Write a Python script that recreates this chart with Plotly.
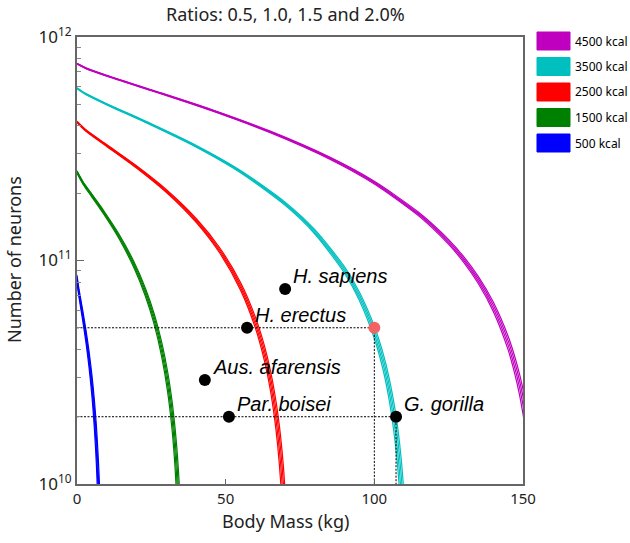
import math
import plotly.graph_objects as go

# ---------------- data ----------------
budgets = ["4500 kcal", "3500 kcal", "2500 kcal", "1500 kcal", "500 kcal"]
colors = ["#bf00bf", "#00bfbf", "#ff0000", "#008000", "#0000ff"]
ratios = ["0.5%", "1.0%", "1.5%", "2.0%"]
UNIT = 1e10  # neuron values below are given in units of 10^10 neurons

# 4500 kcal: body mass (kg) and number of neurons for each ratio
mag_mass = [0, 3, 10, 25, 45, 65, 85, 100, 115, 125, 130, 135, 140, 145, 148, 150, 152]
mag_r05 = [76.3, 72.8, 67.4, 58.1, 47.5, 37.9, 29.0, 22.6, 16.4, 12.4, 10.43, 8.47, 6.52, 4.58, 3.42, 2.66, 1.90]
mag_r10 = [76.1, 72.6, 67.2, 57.9, 47.3, 37.7, 28.8, 22.4, 16.2, 12.2, 10.23, 8.27, 6.32, 4.38, 3.22, 2.46, 1.70]
mag_r15 = [75.9, 72.4, 67.0, 57.7, 47.1, 37.5, 28.6, 22.2, 16.0, 12.0, 10.03, 8.07, 6.12, 4.18, 3.02, 2.26, 1.50]
mag_r20 = [75.7, 72.2, 66.8, 57.5, 46.9, 37.3, 28.4, 22.0, 15.8, 11.8, 9.83, 7.87, 5.92, 3.98, 2.82, 2.06, 1.30]

# 3500 kcal
cya_mass = [0, 3, 10, 25, 40, 55, 70, 80, 90, 95, 100, 103, 105, 107, 108, 109, 110, 111]
cya_r05 = [59.3, 55.8, 50.3, 40.9, 32.8, 25.3, 18.25, 13.74, 9.36, 7.21, 5.08, 3.82, 2.97, 2.14, 1.73, 1.31, 0.89, 0.48]
cya_r10 = [59.1, 55.6, 50.1, 40.7, 32.6, 25.1, 18.05, 13.54, 9.16, 7.01, 4.88, 3.62, 2.77, 1.94, 1.53, 1.11, 0.69, 0.28]
cya_r15 = [58.9, 55.4, 49.9, 40.5, 32.4, 24.9, 17.85, 13.34, 8.96, 6.81, 4.68, 3.42, 2.57, 1.74, 1.33, 0.91, 0.49, 0.08]
cya_r20 = [58.7, 55.2, 49.7, 40.3, 32.2, 24.7, 17.65, 13.14, 8.76, 6.61, 4.48, 3.22, 2.37, 1.54, 1.13, 0.71, 0.29, 0.02]

# 2500 kcal
red_mass = [0, 3, 10, 20, 30, 40, 48, 55, 60, 63, 65, 66.5, 67.5, 68.5, 69.5, 70.5]
red_r05 = [42.0, 38.48, 33.00, 26.54, 20.79, 15.45, 11.40, 7.97, 5.58, 4.17, 3.24, 2.54, 2.08, 1.62, 1.16, 0.70]
red_r10 = [41.8, 38.28, 32.80, 26.34, 20.59, 15.25, 11.20, 7.77, 5.38, 3.97, 3.04, 2.34, 1.88, 1.42, 0.96, 0.50]
red_r15 = [41.6, 38.08, 32.60, 26.14, 20.39, 15.05, 11.00, 7.57, 5.18, 3.77, 2.84, 2.14, 1.68, 1.22, 0.76, 0.30]
red_r20 = [41.4, 37.88, 32.40, 25.94, 20.19, 14.85, 10.80, 7.37, 4.98, 3.57, 2.64, 1.94, 1.48, 1.02, 0.56, 0.10]

# 1500 kcal
grn_mass = [0, 2, 5, 9, 14, 19, 23, 26, 28.5, 30.5, 32, 33, 33.8, 34.5, 35.2]
grn_r05 = [25.2, 22.57, 19.82, 16.70, 13.20, 9.97, 7.52, 5.75, 4.30, 3.17, 2.33, 1.77, 1.33, 0.94, 0.56]
grn_r10 = [25.0, 22.37, 19.62, 16.50, 13.00, 9.77, 7.32, 5.55, 4.10, 2.97, 2.13, 1.57, 1.13, 0.74, 0.36]
grn_r15 = [24.8, 22.17, 19.42, 16.30, 12.80, 9.57, 7.12, 5.35, 3.90, 2.77, 1.93, 1.37, 0.93, 0.54, 0.16]
grn_r20 = [24.6, 21.97, 19.22, 16.10, 12.60, 9.37, 6.92, 5.15, 3.70, 2.57, 1.73, 1.17, 0.73, 0.34, 0.02]

# 500 kcal
blu_mass = [0, 0.5, 1, 2, 3, 4, 5, 5.8, 6.5, 7, 7.4, 7.8, 8.2]
blu_r05 = [8.6, 7.69, 7.03, 5.90, 4.90, 3.97, 3.09, 2.41, 1.84, 1.43, 1.12, 0.80, 0.49]
blu_r10 = [8.4, 7.49, 6.83, 5.70, 4.70, 3.77, 2.89, 2.21, 1.64, 1.23, 0.92, 0.60, 0.29]
blu_r15 = [8.2, 7.29, 6.63, 5.50, 4.50, 3.57, 2.69, 2.01, 1.44, 1.03, 0.72, 0.40, 0.09]
blu_r20 = [8.0, 7.09, 6.43, 5.30, 4.30, 3.37, 2.49, 1.81, 1.24, 0.83, 0.52, 0.20, 0.01]

curve_mass = [mag_mass, cya_mass, red_mass, grn_mass, blu_mass]
curve_neurons = [
    [mag_r05, mag_r10, mag_r15, mag_r20],
    [cya_r05, cya_r10, cya_r15, cya_r20],
    [red_r05, red_r10, red_r15, red_r20],
    [grn_r05, grn_r10, grn_r15, grn_r20],
    [blu_r05, blu_r10, blu_r15, blu_r20],
]

species = ["H. sapiens", "H. erectus", "Aus. afarensis", "Par. boisei", "G. gorilla"]
species_mass = [70.0, 57.2, 43.0, 51.1, 107.3]
species_neurons = [7.45e10, 5.0e10, 2.92e10, 2.0e10, 2.0e10]

limit_mass = 100.0
limit_neurons = 5.0e10

title_text = "Ratios: 0.5, 1.0, 1.5 and 2.0%"
x_title = "Body Mass (kg)"
y_title = "Number of neurons"
x_ticks = [0, 50, 100, 150]
y_ticks = [1e10, 1e11, 1e12]
y_ticklabels = ["10<sup>10</sup>", "10<sup>11</sup>", "10<sup>12</sup>"]

# ---------------- figure ----------------
fig = go.Figure()

for ci, (mass, nlist) in enumerate(zip(curve_mass, curve_neurons)):
    for ri, n in enumerate(nlist):
        fig.add_trace(go.Scatter(
            x=mass, y=[v * UNIT for v in n], mode="lines",
            line=dict(color=colors[ci], width=1.2, shape="spline", smoothing=0.7),
            name=f"{budgets[ci]} {ratios[ri]}", showlegend=False, hoverinfo="skip"))

dot = dict(color="black", width=1, dash="2px,1.5px")
fig.add_trace(go.Scatter(x=[0, limit_mass, limit_mass], y=[limit_neurons, limit_neurons, 1e10],
                         mode="lines", line=dot, showlegend=False))
g_m, g_n = species_mass[4], species_neurons[4]
fig.add_trace(go.Scatter(x=[0, g_m, g_m], y=[g_n, g_n, 1e10],
                         mode="lines", line=dot, showlegend=False))

fig.add_trace(go.Scatter(x=species_mass, y=species_neurons, mode="markers",
                         marker=dict(color="black", size=12), showlegend=False))
fig.add_trace(go.Scatter(x=[limit_mass], y=[limit_neurons], mode="markers",
                         marker=dict(color="#f26464", size=12), showlegend=False))

annotations = []
for s, m, n in zip(species, species_mass, species_neurons):
    annotations.append(dict(x=m, y=math.log10(n), xref="x", yref="y", text=f"<i>{s}</i>",
                            showarrow=False, xanchor="left", yanchor="middle",
                            xshift=6, yshift=13,
                            font=dict(family="Liberation Sans, Arial", size=20, color="black")))

# plot-area geometry in page pixels
L, R, T, B = 77, 523, 37, 484
W = R - L
H = B - T

shapes = []
for i, (b, c) in enumerate(zip(budgets, colors)):
    yc = 41 + 25.5 * i
    shapes.append(dict(type="rect", xref="paper", yref="paper",
                       x0=(537 - L) / W, x1=(570 - L) / W,
                       y0=(B - (yc + 9)) / H, y1=(B - (yc - 9)) / H,
                       fillcolor=c, line=dict(color=c, width=1)))
    annotations.append(dict(xref="paper", yref="paper", x=(573 - L) / W, y=(B - yc) / H,
                            text=b, showarrow=False, xanchor="left", yanchor="middle",
                            font=dict(family="Noto Sans", size=12, color="black")))

annotations.append(dict(xref="paper", yref="paper", x=(285 - L) / W, y=(B - 14) / H,
                        text=title_text, showarrow=False, xanchor="center", yanchor="middle",
                        font=dict(family="Noto Sans", size=18, color="#222")))
annotations.append(dict(xref="paper", yref="paper", x=(285 - L) / W, y=(B - 521) / H,
                        text=x_title, showarrow=False, xanchor="center", yanchor="middle",
                        font=dict(family="Noto Sans", size=18, color="#222")))
annotations.append(dict(xref="paper", yref="paper", x=(14 - L) / W, y=(B - 260) / H,
                        text=y_title, showarrow=False, xanchor="center", yanchor="middle",
                        textangle=-90,
                        font=dict(family="Noto Sans", size=18, color="#222")))

fig.update_layout(
    width=630, height=543,
    margin=dict(l=L, r=630 - R, t=T, b=543 - B),
    plot_bgcolor="white", paper_bgcolor="white",
    showlegend=False,
    shapes=shapes,
    annotations=annotations,
    font=dict(family="Noto Sans", color="#222"),
)
fig.update_xaxes(range=[0, 150], tickvals=x_ticks, ticks="inside", ticklen=5,
                 tickcolor="#666", showline=True, linecolor="#666", linewidth=2,
                 mirror=True, showgrid=False, zeroline=False,
                 tickfont=dict(family="Noto Sans", size=15, color="#222"))
fig.update_yaxes(type="log", range=[10, 12], tickvals=y_ticks, ticktext=y_ticklabels,
                 ticks="inside", ticklen=7, tickcolor="#666",
                 minor=dict(ticks="inside", ticklen=4, tickcolor="#888",
                            tickvals=[k * 10 ** e for e in (10, 11) for k in range(2, 10)]),
                 showline=True, linecolor="#666", linewidth=2, mirror=True,
                 showgrid=False, zeroline=False,
                 tickfont=dict(family="Noto Sans", size=17, color="#222"))

fig.write_html("out.html",
               config={"displayModeBar": False},
               post_script="document.body.style.margin='0';document.body.style.overflow='hidden';")
